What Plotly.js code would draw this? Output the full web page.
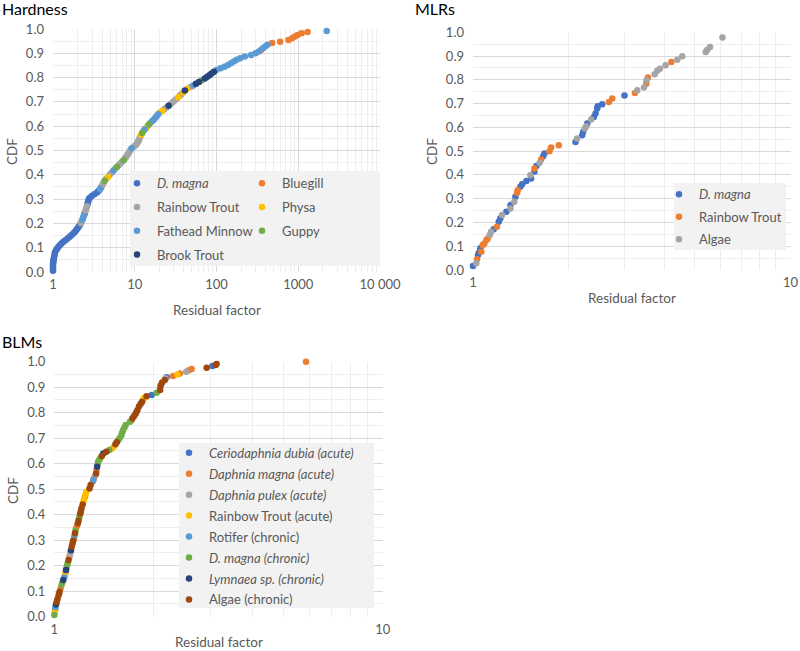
<!DOCTYPE html>
<html><head><meta charset="utf-8">
<script src="https://cdn.plot.ly/plotly-3.0.1.min.js"></script>
<style>html,body{margin:0;padding:0;background:#fff}#chart{width:800px;height:651px}</style>
</head><body><div id="chart"></div>
<script>
// ---------------- Hardness panel ----------------
const hDmagnaX = [1.00,1.00,1.00,1.00,1.00,1.01,1.01,1.02,1.03,1.04,1.05,1.06,1.09,1.12,1.16,1.21,1.27,1.34,1.42,1.51,1.60,1.69,1.78,1.86,1.93,2.00,2.07,2.14,2.33,2.41,2.45,2.64,2.67,2.70,2.74,2.82,2.98,3.20,3.45,3.62,3.86];
const hDmagnaY = [0.005,0.012,0.019,0.026,0.033,0.040,0.047,0.054,0.061,0.068,0.075,0.082,0.089,0.096,0.103,0.110,0.117,0.124,0.131,0.138,0.145,0.152,0.159,0.166,0.173,0.180,0.187,0.194,0.222,0.236,0.243,0.278,0.285,0.292,0.299,0.306,0.313,0.320,0.327,0.334,0.348];
const hBluegillX = [350,480,600,760,840,900,980,1100,1300];
const hBluegillY = [0.914,0.942,0.948,0.955,0.962,0.968,0.975,0.982,0.988];
const hRainbowX = [2.19,2.24,2.49,2.53,2.57,2.61,3.97,4.08,4.18,4.45,4.85,5.05,5.30,5.75,6.35,6.65,6.95,7.60,7.85,8.10,8.35,8.60,8.85,9.80,10.3,10.7,11.0,11.3,11.5,11.7,12.7,14.3,15.6,23.0,24.4,27.5,29.0,30.5,32.3,35.8,37.5,48.0];
const hRainbowY = [0.201,0.208,0.250,0.257,0.264,0.271,0.355,0.362,0.369,0.383,0.397,0.404,0.411,0.425,0.439,0.446,0.453,0.467,0.474,0.481,0.488,0.495,0.502,0.516,0.523,0.530,0.537,0.544,0.551,0.558,0.579,0.600,0.614,0.670,0.677,0.691,0.698,0.705,0.712,0.726,0.733,0.761];
const hPhysaX = [4.70,12.0,13.8,20.2,21.6,34.0,39.3,44.0];
const hPhysaY = [0.390,0.565,0.593,0.656,0.663,0.719,0.740,0.754];
const hFatheadX = [2.29,2.37,3.75,5.50,9.15,13.2,16.4,17.2,17.9,18.6,19.3,52,100,112,125,138,150,163,176,195,222,265,300,330,370,395,420,2230];
const hFatheadY = [0.215,0.229,0.341,0.418,0.509,0.586,0.621,0.628,0.635,0.642,0.649,0.768,0.831,0.838,0.845,0.852,0.859,0.866,0.873,0.880,0.887,0.893,0.900,0.907,0.921,0.928,0.935,0.992];
const hGuppyX = [4.28,6.05,7.30,12.3,14.9,66];
const hGuppyY = [0.376,0.432,0.460,0.572,0.607,0.789];
const hBrookX = [26,41,56,61,72,77,82,87,93];
const hBrookY = [0.684,0.747,0.775,0.782,0.796,0.803,0.810,0.817,0.824];
const hTickVals = [1,10,100,1000,10000];
const hTickText = ['1','10','100','1000','10 000'];

// ---------------- MLRs panel ----------------
const mDmagnaX = [1.000,1.037,1.044,1.055,1.162,1.205,1.219,1.274,1.312,1.360,1.410,1.428,1.473,1.524,1.561,1.584,1.663,1.679,2.103,2.207,2.223,2.290,2.403,2.432,2.461,2.470,2.553,3.000];
const mDmagnaY = [0.017,0.063,0.073,0.091,0.171,0.203,0.217,0.245,0.273,0.308,0.350,0.361,0.374,0.385,0.413,0.438,0.479,0.490,0.539,0.567,0.581,0.616,0.644,0.658,0.679,0.689,0.697,0.734];
const mRainbowX = [1.030,1.062,1.073,1.086,1.102,1.113,1.190,1.377,1.383,1.561,1.639,1.741,1.762,1.863,2.679,2.745,3.236,3.513,3.556,4.214];
const mRainbowY = [0.045,0.077,0.105,0.112,0.126,0.133,0.182,0.325,0.336,0.427,0.465,0.500,0.515,0.525,0.707,0.721,0.745,0.784,0.810,0.875];
const mAlgaeX = [1.024,1.129,1.140,1.234,1.312,1.349,1.516,1.622,2.128,2.250,2.273,2.356,3.291,3.455,3.520,3.733,3.804,3.880,4.043,4.401,4.562,5.406,5.470,5.580,6.105];
const mAlgaeY = [0.028,0.147,0.161,0.231,0.259,0.287,0.399,0.451,0.553,0.595,0.605,0.633,0.756,0.768,0.798,0.824,0.838,0.847,0.861,0.885,0.899,0.917,0.927,0.938,0.978];
const mTickVals = [1,10];
const mTickText = ['1','10'];

// ---------------- BLMs panel ----------------
const bCerioX = [1.006,1.98,2.20,3.03];
const bCerioY = [0.028,0.869,0.939,0.983];
const bDmagnaAX = [1.027,1.045,1.082,1.090,1.110,1.148,1.164,1.172,1.240,1.320,1.345,1.72,2.10,2.30,2.41,2.57,2.62,5.84];
const bDmagnaAY = [0.078,0.111,0.173,0.193,0.232,0.307,0.346,0.356,0.470,0.542,0.575,0.770,0.900,0.944,0.954,0.966,0.971,1.000];
const bPulexX = [1.116,1.120,1.31,1.33,1.78,2.18,2.52];
const bPulexY = [0.242,0.251,0.529,0.552,0.804,0.935,0.961];
const bTroutX = [1.003,1.078,1.225,1.232,1.245,1.252,1.50,1.52,1.865,1.88,2.37];
const bTroutY = [0.018,0.163,0.450,0.460,0.480,0.490,0.660,0.667,0.852,0.859,0.950];
const bRotiferX = [1.008,1.072,1.152,1.315];
const bRotiferY = [0.038,0.154,0.317,0.536];
const bDmagnaCX = [1.00,1.052,1.058,1.095,1.10,1.16,1.19,1.195,1.355,1.36,1.37,1.38,1.47,1.565,1.58,1.60,1.61,1.62,1.635,1.65,1.70,2.05];
const bDmagnaCY = [0.007,0.124,0.134,0.203,0.213,0.336,0.386,0.396,0.598,0.608,0.615,0.621,0.654,0.692,0.700,0.712,0.722,0.732,0.742,0.752,0.765,0.878];
const bLymnaeaX = [1.012,1.065,1.086,1.124,1.35,1.41];
const bLymnaeaY = [0.048,0.144,0.183,0.261,0.588,0.640];
const bAlgaeX = [1.017,1.022,1.033,1.038,1.105,1.13,1.137,1.142,1.156,1.18,1.185,1.20,1.205,1.21,1.22,1.28,1.29,1.34,1.395,1.44,1.535,1.55,1.73,1.75,1.77,1.79,1.81,1.83,1.85,1.91,2.10,2.11,2.13,2.17,2.91,3.10,3.12];
const bAlgaeY = [0.058,0.068,0.088,0.098,0.222,0.275,0.288,0.298,0.327,0.366,0.376,0.405,0.415,0.425,0.440,0.503,0.516,0.562,0.630,0.647,0.676,0.684,0.778,0.787,0.797,0.810,0.824,0.834,0.843,0.865,0.889,0.908,0.918,0.928,0.976,0.987,0.991];
const bTickVals = [1,10];
const bTickText = ['1','10'];

// ---------------- styling ----------------
const C = {blue:'#4472C4', orange:'#ED7D31', gray:'#A5A5A5', gold:'#FFC000', lblue:'#5B9BD5', green:'#70AD47', navy:'#264478', brown:'#9E480E'};
const W = 800, H = 651;
const fx = p => p / W, fy = p => 1 - p / H;
const FONT = 'Lato, "Open Sans", sans-serif';
const GREY_TXT = '#595959';

function tr(name, x, y, color, xa, ya, legend) {
  return {type:'scatter', mode:'markers', name, x, y, xaxis:xa, yaxis:ya, legend, legendgroup:name+xa,
    cliponaxis:false, marker:{color, size:6.5, line:{width:0}}, hoverinfo:'skip'};
}
const traces = [
  tr('<i>D. magna</i>', hDmagnaX, hDmagnaY, C.blue, 'x', 'y', 'legend'),
  tr('Bluegill', hBluegillX, hBluegillY, C.orange, 'x', 'y', 'legend2'),
  tr('Rainbow Trout', hRainbowX, hRainbowY, C.gray, 'x', 'y', 'legend'),
  tr('Physa', hPhysaX, hPhysaY, C.gold, 'x', 'y', 'legend2'),
  tr('Fathead Minnow', hFatheadX, hFatheadY, C.lblue, 'x', 'y', 'legend'),
  tr('Guppy', hGuppyX, hGuppyY, C.green, 'x', 'y', 'legend2'),
  tr('Brook Trout', hBrookX, hBrookY, C.navy, 'x', 'y', 'legend'),

  tr('<i>D. magna</i>', mDmagnaX, mDmagnaY, C.blue, 'x2', 'y2', 'legend3'),
  tr('Rainbow Trout', mRainbowX, mRainbowY, C.orange, 'x2', 'y2', 'legend3'),
  tr('Algae', mAlgaeX, mAlgaeY, C.gray, 'x2', 'y2', 'legend3'),

  tr('<i>Ceriodaphnia dubia (acute)</i>', bCerioX, bCerioY, C.blue, 'x3', 'y3', 'legend4'),
  tr('<i>Daphnia magna (acute)</i>', bDmagnaAX, bDmagnaAY, C.orange, 'x3', 'y3', 'legend4'),
  tr('<i>Daphnia pulex (acute)</i>', bPulexX, bPulexY, C.gray, 'x3', 'y3', 'legend4'),
  tr('Rainbow Trout (acute)', bTroutX, bTroutY, C.gold, 'x3', 'y3', 'legend4'),
  tr('Rotifer (chronic)', bRotiferX, bRotiferY, C.lblue, 'x3', 'y3', 'legend4'),
  tr('<i>D. magna (chronic)</i>', bDmagnaCX, bDmagnaCY, C.green, 'x3', 'y3', 'legend4'),
  tr('<i>Lymnaea sp. (chronic)</i>', bLymnaeaX, bLymnaeaY, C.navy, 'x3', 'y3', 'legend4'),
  tr('Algae (chronic)', bAlgaeX, bAlgaeY, C.brown, 'x3', 'y3', 'legend4')
];

function minorLog(decades) {
  const v = [];
  for (let d = 0; d < decades; d++) for (let k = 2; k <= 9; k++) v.push(k * Math.pow(10, d));
  return v;
}
function xAx(dom, decades, tv, tt, anchor) {
  return {domain:dom, type:'log', range:[0, decades], tickmode:'array', tickvals:tv, ticktext:tt,
    showgrid:true, gridcolor:'#D9D9D9', gridwidth:1, zeroline:false, showline:false, ticks:'',
    tickfont:{family:FONT, size:13, color:GREY_TXT}, ticklabelstandoff:3, anchor, fixedrange:true,
    minor:{tickmode:'array', tickvals:minorLog(decades), showgrid:true, gridcolor:'#EEEEEE', gridwidth:1, ticks:''}};
}
function yAx(dom, anchor) {
  return {domain:dom, range:[0,1], tick0:0, dtick:0.1, tickformat:'.1f',
    showgrid:true, gridcolor:'#D9D9D9', gridwidth:1, zeroline:false, showline:false, ticks:'',
    tickfont:{family:FONT, size:13, color:GREY_TXT}, ticklabelstandoff:8, anchor, fixedrange:true,
    minor:{dtick:0.05, showgrid:true, gridcolor:'#EEEEEE', gridwidth:1, ticks:''}};
}
function lg(xpx, ypx, gap) {
  return {x:fx(xpx), y:fy(ypx), xanchor:'left', yanchor:'top', bgcolor:'rgba(0,0,0,0)', borderwidth:0,
    font:{family:FONT, size:13, color:GREY_TXT}, tracegroupgap:gap, itemclick:false, itemdoubleclick:false};
}
function ann(text, xpx, ypx, opt) {
  return Object.assign({text, x:fx(xpx), y:fy(ypx), xref:'paper', yref:'paper', showarrow:false,
    xanchor:'center', yanchor:'middle', font:{family:FONT, size:13.5, color:GREY_TXT}}, opt || {});
}
function box(x0, y0, x1, y1) {
  return {type:'rect', xref:'paper', yref:'paper', x0:fx(x0), x1:fx(x1), y0:fy(y1), y1:fy(y0),
    fillcolor:'#F2F2F2', line:{width:0}, layer:'above'};
}

const layout = {
  width:W, height:H, margin:{l:0, r:0, t:0, b:0}, paper_bgcolor:'#fff', plot_bgcolor:'#fff',
  font:{family:FONT, color:GREY_TXT},
  xaxis: xAx([fx(53), fx(380)], 4, hTickVals, hTickText, 'y'),
  yaxis: yAx([fy(272), fy(29)], 'x'),
  xaxis2: xAx([fx(473), fx(790.5)], 1, mTickVals, mTickText, 'y2'),
  yaxis2: yAx([fy(270), fy(32.3)], 'x2'),
  xaxis3: xAx([fx(54.3), fx(382.7)], 1, bTickVals, bTickText, 'y3'),
  yaxis3: yAx([fy(616.7), fy(361.7)], 'x3'),
  legend: lg(117, 168.4, 3.8),
  legend2: lg(242, 168.4, 3.8),
  legend3: lg(659, 179.4, 2.5),
  legend4: lg(169, 437.8, 1.05),
  shapes: [box(130, 171, 380, 266), box(674, 183, 786, 250), box(179, 443, 374, 608)],
  annotations: [
    ann('Hardness', 0, 8, {xanchor:'left', font:{family:FONT, size:16, color:'#000'}}),
    ann('MLRs', 413, 8, {xanchor:'left', font:{family:FONT, size:16, color:'#000'}}),
    ann('BLMs', 0, 341, {xanchor:'left', font:{family:FONT, size:16, color:'#000'}}),
    ann('Residual factor', 216.5, 310),
    ann('Residual factor', 631.5, 298),
    ann('Residual factor', 218.5, 642),
    ann('CDF', 12, 152, {textangle:-90}),
    ann('CDF', 432, 152, {textangle:-90}),
    ann('CDF', 13, 491, {textangle:-90})
  ],
  showlegend:true
};

Plotly.newPlot('chart', traces, layout, {staticPlot:true, displayModeBar:false});
</script></body></html>
